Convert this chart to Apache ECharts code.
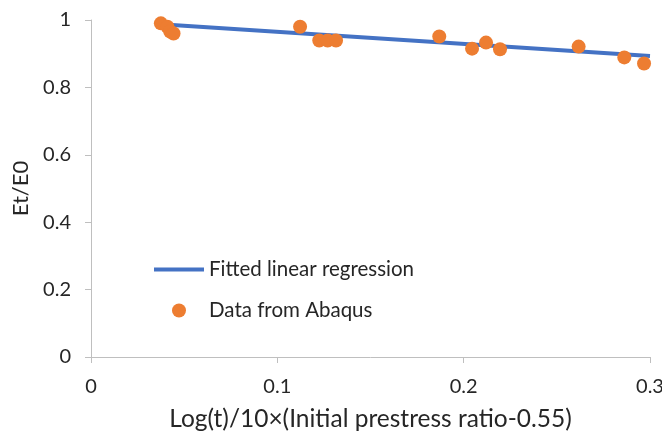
<!DOCTYPE html>
<html>
<head>
<meta charset="utf-8">
<script src="https://cdn.jsdelivr.net/npm/echarts@6/dist/echarts.min.js"></script>
<style>html,body{margin:0;padding:0;background:#fff}#c{width:662px;height:431px}</style>
</head>
<body>
<div id="c"></div>
<script>
var xTicks = ['0', '0.1', '0.2', '0.3'];
var yTicks = ['0', '0.2', '0.4', '0.6', '0.8', '1'];
var abaqusX = [0.0375, 0.041, 0.0425, 0.0443, 0.1122, 0.1225, 0.1270, 0.1315, 0.1869, 0.2045, 0.2120, 0.2195, 0.2617, 0.2862, 0.2968];
var abaqusY = [0.990, 0.980, 0.966, 0.960, 0.980, 0.939, 0.939, 0.939, 0.951, 0.915, 0.933, 0.913, 0.921, 0.889, 0.871];
var fitX = [0.0375, 0.3];
var fitY = [0.9875, 0.893];

var font = 'Lato';
var txt = '#262626';
var chart = echarts.init(document.getElementById('c'));
chart.setOption({
  animation: false,
  textStyle: {fontFamily: font},
  grid: {left: 91, right: 12, top: 20, bottom: 74, containLabel: false, outerBoundsMode: 'none'},
  legend: {
    orient: 'vertical', left: 147, top: 254,
    itemWidth: 50, itemHeight: 14, itemGap: 20,
    textStyle: {fontFamily: font, fontSize: 20.5, color: txt},
    data: [
      {name: 'Fitted linear regression', itemStyle: {opacity: 0}, lineStyle: {width: 4, color: '#4472C4'}},
      {name: 'Data from Abaqus'}
    ]
  },
  xAxis: {
    type: 'value', min: 0, max: 0.3, interval: 0.1,
    name: 'Log(t)/10×(Initial prestress ratio-0.55)',
    nameLocation: 'middle', nameGap: 50,
    nameTextStyle: {fontFamily: font, fontSize: 24.5, color: txt},
    axisLine: {show: true, lineStyle: {color: '#BFBFBF', width: 1}},
    axisTick: {show: true, length: 6, lineStyle: {color: '#BFBFBF'}},
    splitLine: {show: false},
    axisLabel: {margin: 20, fontFamily: font, fontSize: 20, color: txt,
      formatter: function (v) { return xTicks[Math.round(v / 0.1)]; }}
  },
  yAxis: {
    type: 'value', min: 0, max: 1, interval: 0.2,
    name: 'Et/E0', nameLocation: 'middle', nameGap: 59,
    nameTextStyle: {fontFamily: font, fontSize: 22, color: txt},
    axisLine: {show: true, lineStyle: {color: '#BFBFBF', width: 1}},
    axisTick: {show: true, length: 6, lineStyle: {color: '#BFBFBF'}},
    splitLine: {show: false},
    axisLabel: {margin: 20, fontFamily: font, fontSize: 20, color: txt,
      formatter: function (v) { return yTicks[Math.round(v / 0.2)]; }}
  },
  series: [
    {
      name: 'Fitted linear regression', type: 'line', symbol: 'none',
      lineStyle: {color: '#4472C4', width: 4}, itemStyle: {color: '#4472C4'},
      data: fitX.map(function (x, i) { return [x, fitY[i]]; }), z: 2
    },
    {
      name: 'Data from Abaqus', type: 'scatter', symbolSize: 14,
      itemStyle: {color: '#ED7D31', opacity: 1},
      data: abaqusX.map(function (x, i) { return [x, abaqusY[i]]; }), z: 3
    }
  ]
});
</script>
</body>
</html>
